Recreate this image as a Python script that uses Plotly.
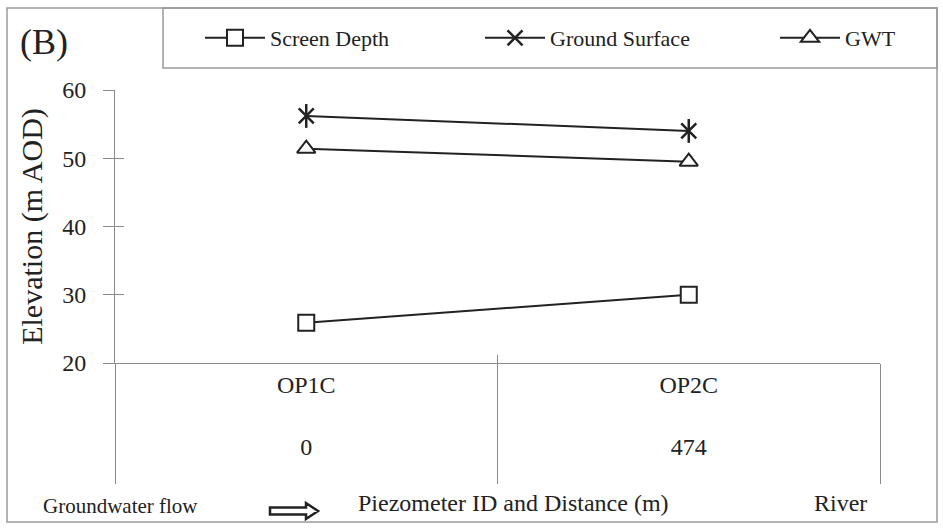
import plotly.graph_objects as go

# Piezometer transect data
piezometers = ["OP1C", "OP2C"]
distances_m = ["0", "474"]
screen_depth = [25.9, 30.0]
ground_surface = [56.2, 54.0]
gwt = [51.4, 49.5]

# figure geometry (pixels)
W, H = 943, 532
ML, MR, MT, MB = 115, 63, 90, 169
PW, PH = W - ML - MR, H - MT - MB


def px(x):
    return (x - ML) / PW


def py(y):
    return (H - MB - y) / PH


INK = "#222222"
AXIS = "#8a8a8a"
FONT = "Liberation Serif"

fig = go.Figure()

fig.add_trace(go.Scatter(
    x=piezometers, y=screen_depth, name="Screen Depth", mode="lines+markers",
    legend="legend",
    line=dict(color=INK, width=2),
    marker=dict(symbol="square", size=16, color="white", line=dict(color=INK, width=2)),
))
fig.add_trace(go.Scatter(
    x=piezometers, y=ground_surface, name="Ground Surface", mode="lines+markers",
    legend="legend2",
    line=dict(color=INK, width=2),
    marker=dict(symbol="x-thin-open", size=15, color=INK, line=dict(color=INK, width=2.5)),
))
fig.add_trace(go.Scatter(
    x=piezometers, y=gwt, name="GWT", mode="lines+markers",
    legend="legend3",
    line=dict(color=INK, width=2),
    marker=dict(symbol="triangle-up", size=16, color="white", line=dict(color=INK, width=2)),
))
# vertical stroke completing the six-armed asterisk (drawn on the overlay axes)
fig.add_trace(go.Scatter(
    x=piezometers, y=ground_surface, mode="markers", showlegend=False, hoverinfo="skip",
    xaxis="x2", yaxis="y2",
    marker=dict(symbol="line-ns-open", size=17, color=INK, line=dict(color=INK, width=2.5)),
))

ticktext = [f"{p}<br> <br>{d}" for p, d in zip(piezometers, distances_m)]


def legend_at(x_px):
    return dict(
        orientation="h", xref="container", yref="container",
        x=(x_px - 5) / W, y=1 - 38 / H, xanchor="left", yanchor="middle",
        itemwidth=60, font=dict(family=FONT, size=22, color=INK),
        bgcolor="rgba(0,0,0,0)", borderwidth=0,
    )


fig.update_layout(
    width=W, height=H,
    margin=dict(l=ML, r=MR, t=MT, b=MB, autoexpand=False),
    paper_bgcolor="white", plot_bgcolor="white",
    font=dict(family=FONT, color=INK, size=22),
    showlegend=True,
    legend=legend_at(205),
    legend2=legend_at(485),
    legend3=legend_at(780),
    # category labels with short boundary ticks above the axis line
    xaxis=dict(
        type="category", categoryorder="array", categoryarray=piezometers,
        range=[-0.5, 1.5], showgrid=False, zeroline=False,
        showline=True, linecolor=AXIS, linewidth=1,
        tickvals=piezometers, ticktext=ticktext, tickson="boundaries",
        ticks="inside", ticklen=8, tickcolor=AXIS, tickwidth=1,
        tickfont=dict(size=24), ticklabelstandoff=0,
    ),
    # long category dividers below the axis line
    xaxis2=dict(
        overlaying="x", anchor="y2", type="category", categoryorder="array",
        categoryarray=piezometers, range=[-0.5, 1.5], tickvals=piezometers,
        tickson="boundaries", ticks="outside", ticklen=120, tickcolor=AXIS, tickwidth=1,
        showticklabels=False, showgrid=False, showline=False, zeroline=False,
    ),
    yaxis=dict(
        range=[20, 60], dtick=10, showgrid=False, zeroline=False,
        showline=True, linecolor=AXIS, linewidth=1,
        ticks="outside", ticklen=11, tickcolor=AXIS, tickwidth=1,
        tickfont=dict(size=24), ticklabelstandoff=12,
        title=dict(text="Elevation (m AOD)", font=dict(size=30), standoff=10),
    ),
    yaxis2=dict(
        overlaying="y", anchor="x2", range=[20, 60], dtick=10,
        ticks="inside", ticklen=9, tickcolor=AXIS, tickwidth=1,
        showticklabels=False, showgrid=False, showline=False, zeroline=False,
    ),
)

# outer chart frame and legend box
fig.add_shape(type="rect", xref="paper", yref="paper",
              x0=px(7), x1=px(937), y0=py(522), y1=py(8),
              line=dict(color="#9a9a9a", width=1.5), layer="below")
fig.add_shape(type="rect", xref="paper", yref="paper",
              x0=px(163), x1=px(937), y0=py(68), y1=py(8),
              line=dict(color="#9a9a9a", width=1.5), layer="below")

# groundwater flow direction arrow (outlined)
ax0, ax1, ah, ay = 270, 318, 12, 511
arrow_path = (
    f"M {px(ax0)},{py(ay - 3.5)} L {px(ax1 - ah)},{py(ay - 3.5)} "
    f"L {px(ax1 - ah)},{py(ay - 8)} L {px(ax1)},{py(ay)} "
    f"L {px(ax1 - ah)},{py(ay + 8)} L {px(ax1 - ah)},{py(ay + 3.5)} "
    f"L {px(ax0)},{py(ay + 3.5)} Z"
)
fig.add_shape(type="path", xref="paper", yref="paper", path=arrow_path,
              line=dict(color=INK, width=2.5), fillcolor="white")

annotations = [
    dict(text="(B)", x=px(18), y=py(42), xanchor="left", size=36),
    dict(text="Piezometer ID and Distance (m)", x=px(513), y=py(503), xanchor="center", size=24),
    dict(text="River", x=px(840), y=py(503), xanchor="center", size=24),
    dict(text="Groundwater flow", x=px(120), y=py(506), xanchor="center", size=21),
]
for a in annotations:
    fig.add_annotation(
        text=a["text"], x=a["x"], y=a["y"], xref="paper", yref="paper",
        xanchor=a["xanchor"], yanchor="middle", showarrow=False,
        font=dict(family=FONT, size=a["size"], color=INK),
    )

fig.write_html("out.html")
